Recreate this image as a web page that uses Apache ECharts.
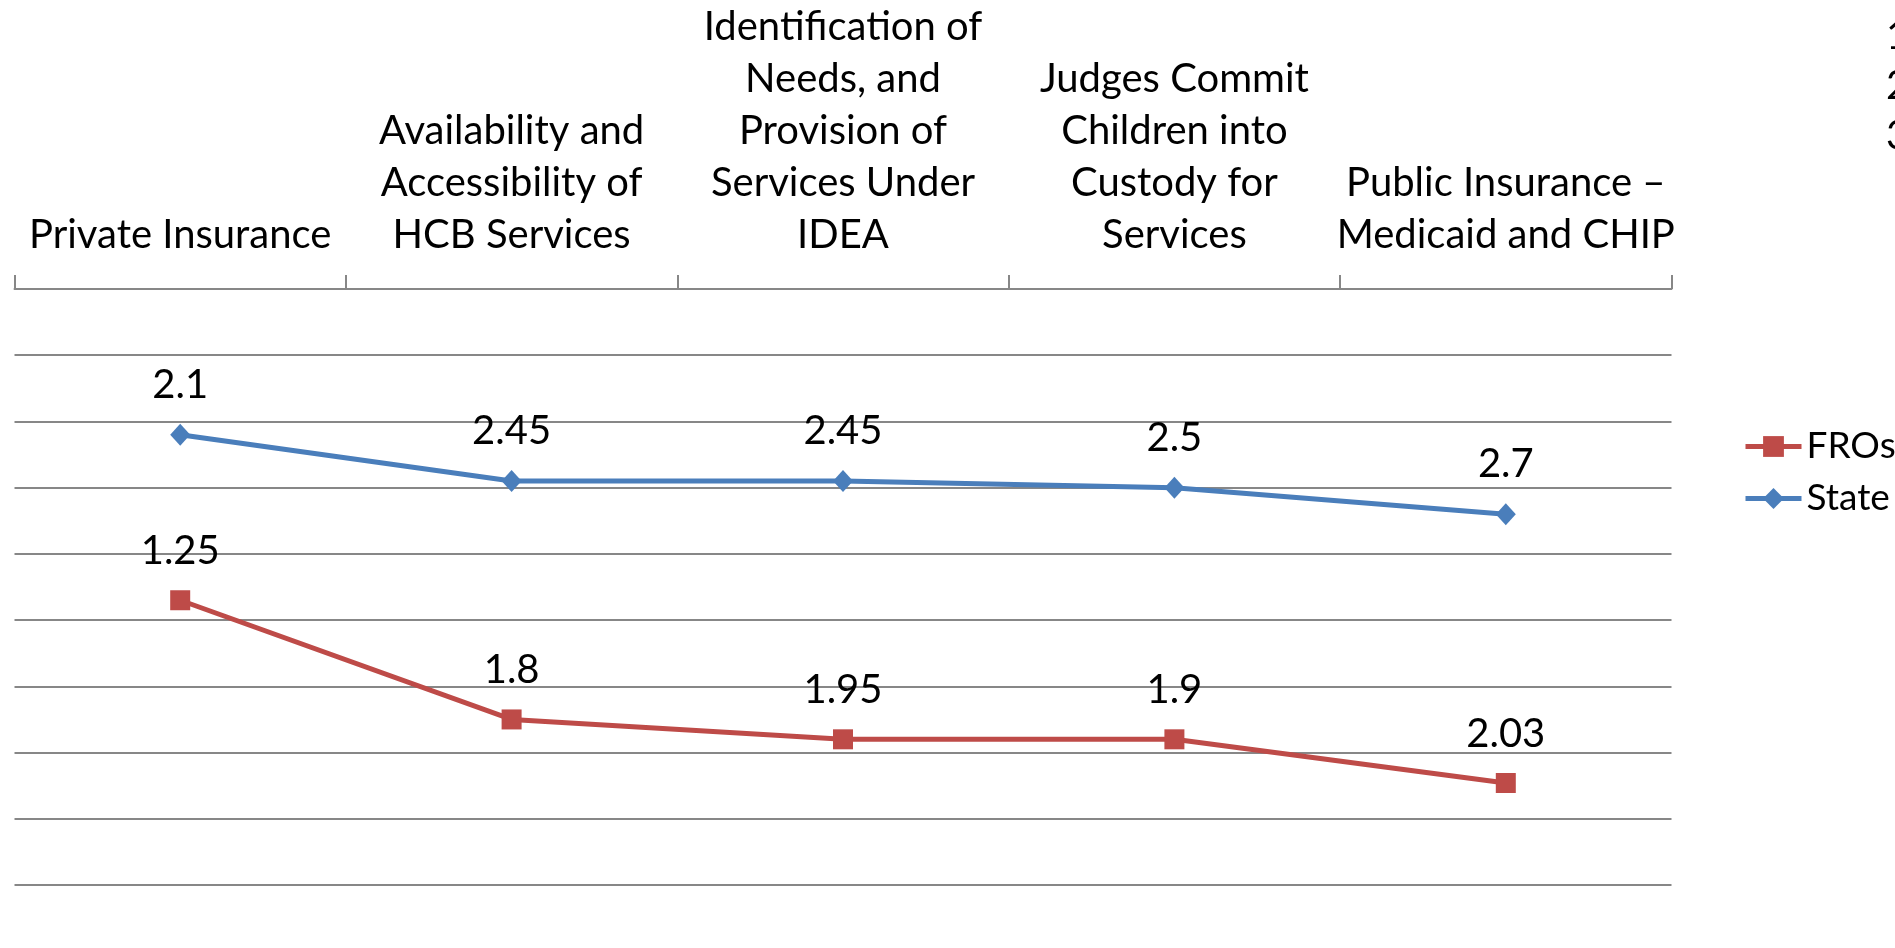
<!DOCTYPE html>
<html>
<head>
<meta charset="utf-8">
<style>
  html, body { margin: 0; padding: 0; background: #fff; }
  #main { width: 1895px; height: 948px; }
</style>
<script src="https://cdn.jsdelivr.net/npm/echarts@6/dist/echarts.min.js"></script>
</head>
<body>
<div id="main"></div>
<script>
var categories = [
  'Private Insurance',
  'Availability and\nAccessibility of\nHCB Services',
  'Identification of\nNeeds, and\nProvision of\nServices Under\nIDEA',
  'Judges Commit\nChildren into\nCustody for\nServices',
  'Public Insurance \u2013\nMedicaid and CHIP'
]
var stateValues = [2.1, 2.45, 2.45, 2.5, 2.7]
var froValues = [1.25, 1.8, 1.95, 1.9, 2.03]
var legendNames = ['FROs', 'State']
var sideNotes = ['1', '2', '3']

var FONT = 'Lato, "Open Sans", sans-serif'
var GRID_COLOR = '#878787'

var chart = echarts.init(document.getElementById('main'))

var noteText = sideNotes.map(function (t, i) {
  return {
    type: 'text',
    left: 1886,
    top: 16 + i * 50,
    style: { text: t, font: '40px ' + FONT, fill: '#000' }
  }
})

chart.setOption({
  animation: false,
  textStyle: { fontFamily: FONT },
  grid: { left: 14.5, right: 223.5, top: 289, bottom: 63 },
  legend: {
    data: legendNames,
    orient: 'vertical',
    left: 1738,
    top: 423,
    itemWidth: 56,
    itemHeight: 26,
    itemGap: 15,
    lineStyle: { width: 5 },
    textStyle: { fontSize: 37, color: '#000', fontFamily: FONT }
  },
  xAxis: {
    type: 'category',
    position: 'top',
    data: categories,
    boundaryGap: true,
    axisLine: { lineStyle: { color: GRID_COLOR, width: 2 } },
    axisTick: { show: true, interval: 0, length: 14, lineStyle: { color: GRID_COLOR, width: 2 } },
    axisLabel: {
      interval: 0,
      fontSize: 40,
      lineHeight: 52,
      color: '#000',
      margin: 28,
      fontFamily: FONT
    }
  },
  yAxis: {
    type: 'value',
    inverse: true,
    min: 1,
    max: 5.5,
    interval: 0.5,
    axisLine: { show: false },
    axisTick: { show: false },
    axisLabel: { show: false },
    splitLine: { lineStyle: { color: GRID_COLOR, width: 2 } }
  },
  series: [{
    name: 'State',
    type: 'line',
    stack: 'total',
    data: stateValues,
    symbol: 'diamond',
    symbolSize: [20, 22],
    lineStyle: { color: '#4A7EBB', width: 5 },
    itemStyle: { color: '#4A7EBB' },
    label: {
      show: true,
      position: 'top',
      distance: 19,
      fontSize: 40,
      color: '#000',
      fontFamily: FONT
    }
  }, {
    name: 'FROs',
    type: 'line',
    stack: 'total',
    data: froValues,
    symbol: 'rect',
    symbolSize: 20,
    lineStyle: { color: '#BE4B48', width: 5 },
    itemStyle: { color: '#BE4B48' },
    label: {
      show: true,
      position: 'top',
      distance: 19,
      fontSize: 40,
      color: '#000',
      fontFamily: FONT,
      formatter: function (p) { return p.value }
    }
  }],
  graphic: noteText
})
</script>
</body>
</html>
